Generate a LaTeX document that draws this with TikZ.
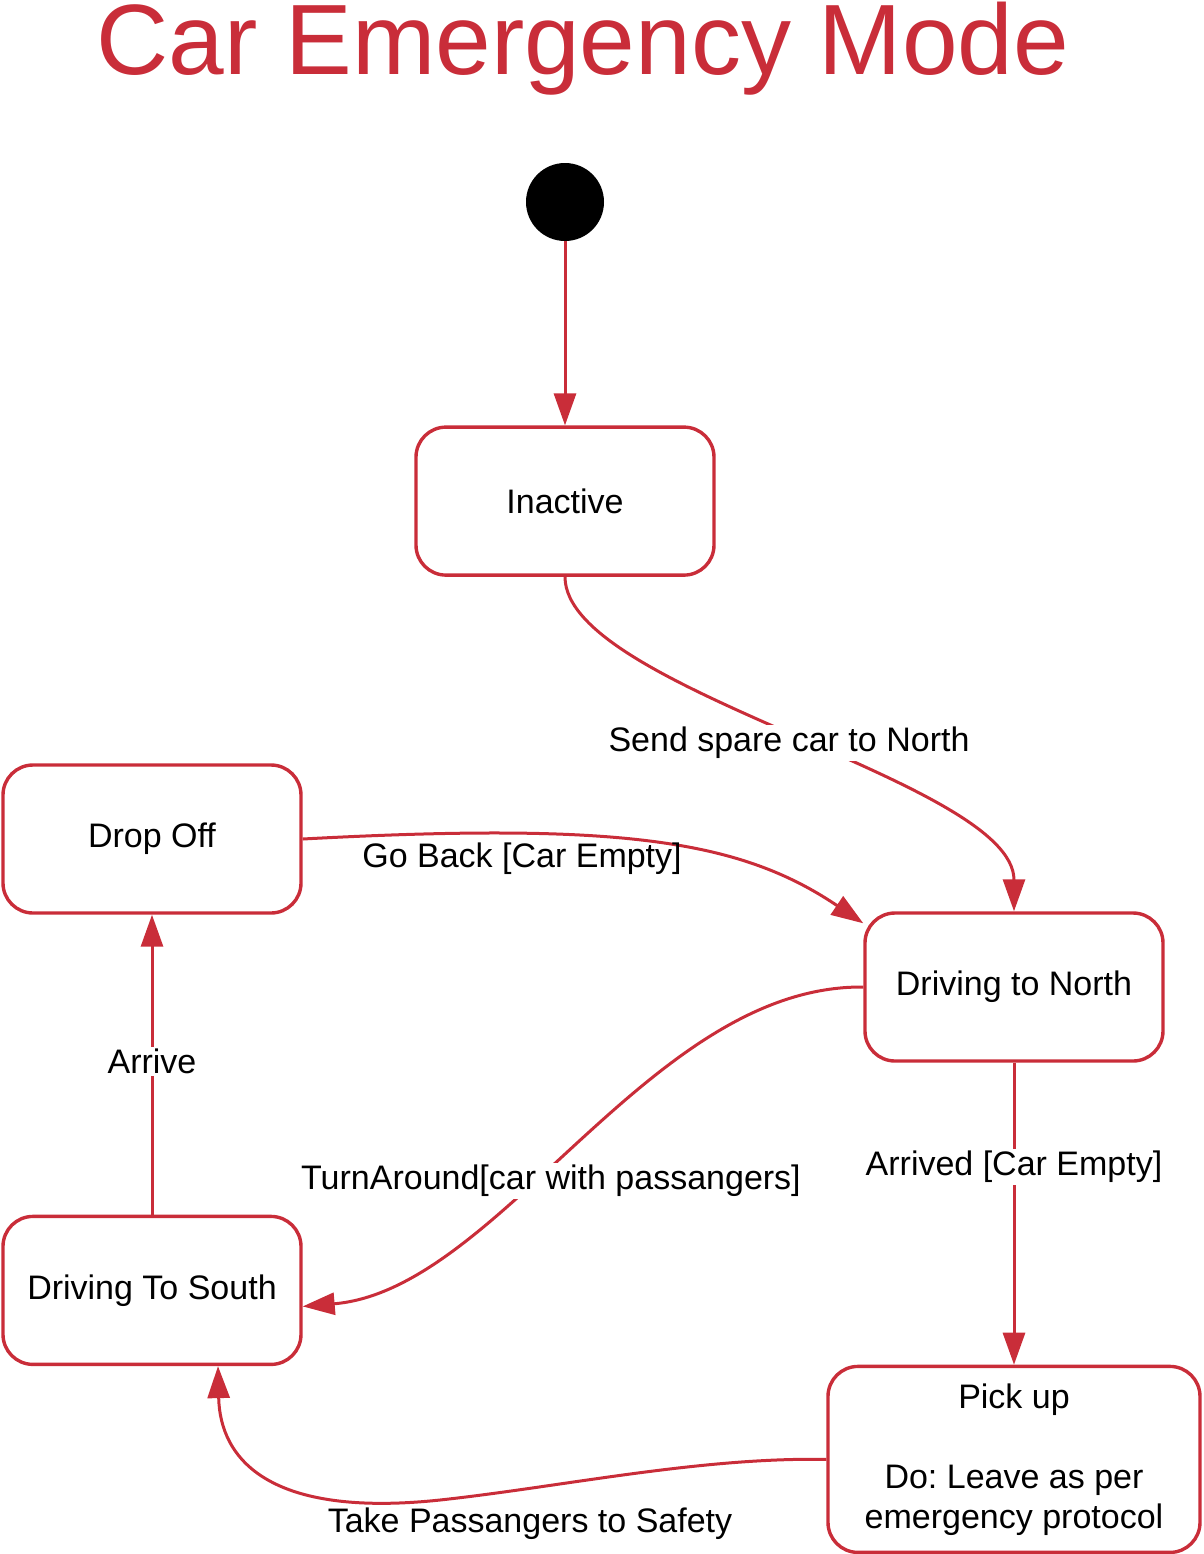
\documentclass[tikz,border=0pt]{standalone}
\usepackage{fontspec}
\setmainfont{Liberation Sans}
\usepackage{tikz}
\usetikzlibrary{positioning, arrows.meta}
\definecolor{umlred}{HTML}{C92D39}
\frenchspacing
\tikzset{
  state/.style={draw=umlred, line width=1.7pt, rounded corners=15pt,
               minimum width=149pt, minimum height=74pt,
               align=center, font=\fontsize{17}{20}\selectfont},
  trans/.style={-{Triangle[length=16pt, width=11pt]}, umlred, line width=1.5pt},
  lbl/.style={fill=white, inner sep=1pt, font=\fontsize{17}{20}\selectfont}
}

\begin{document}
\begin{tikzpicture}[
  x=0.5pt, y=-0.5pt,
  initial/.style={circle, fill=black, minimum size=39pt, inner sep=0pt},
  plain/.style={inner sep=1pt, font=\fontsize{17}{20}\selectfont}
]
\useasboundingbox (0,0) rectangle (1204,1554);

\node[anchor=base, inner sep=0pt, text=umlred, font=\fontsize{50}{58}\selectfont] (title) at (583,74) {Car Emergency Mode};

\node[initial] (init) at (565,202) {};
\node[state, below=92pt of init] (inactive) {Inactive};
\node[state] (dnorth) at (1014,987) {Driving to North};
\node[state, below=151pt of dnorth, minimum width=186pt, minimum height=93pt] (pickup) {Pick up\\[20pt]Do: Leave as per\\emergency protocol};
\node[state] (dropoff) at (152,839) {Drop Off};
\node[state, below=150pt of dropoff] (dsouth) {Driving To South};

\draw[trans] (init) -- (inactive);
\draw[trans] (inactive.south) .. controls (565,690) and (1014,780) .. (dnorth.north);
\draw[trans] (dropoff.east) .. controls (620,822) and (740,840) .. ([yshift=-6pt]dnorth.north west);
\draw[trans] (dnorth.west) .. controls (650,985) and (500,1290) .. ([yshift=-8pt]dsouth.east);
\draw[trans] (dnorth.south) -- (pickup.north);
\draw[trans] (pickup.west) .. controls (700,1457) and (560,1487) .. (440,1500)
  .. controls (270,1518) and (220,1460) .. ([xshift=33pt]dsouth.south);
\draw[trans] (dsouth.north) -- (dropoff.south);

\node[lbl] (lsend) at (789,743) {Send spare car to North};
\node[plain] (lgoback) at (522,859) {Go Back [Car Empty]};
\node[lbl] (lturn) at (551,1181) {TurnAround[car with passangers]};
\node[lbl] (larrived) at (1014,1167) {Arrived [Car Empty]};
\node[lbl] (larrive) at (152,1061) {Arrive};
\node[plain] (ltake) at (530,1524) {Take Passangers to Safety};
\end{tikzpicture}
\end{document}
